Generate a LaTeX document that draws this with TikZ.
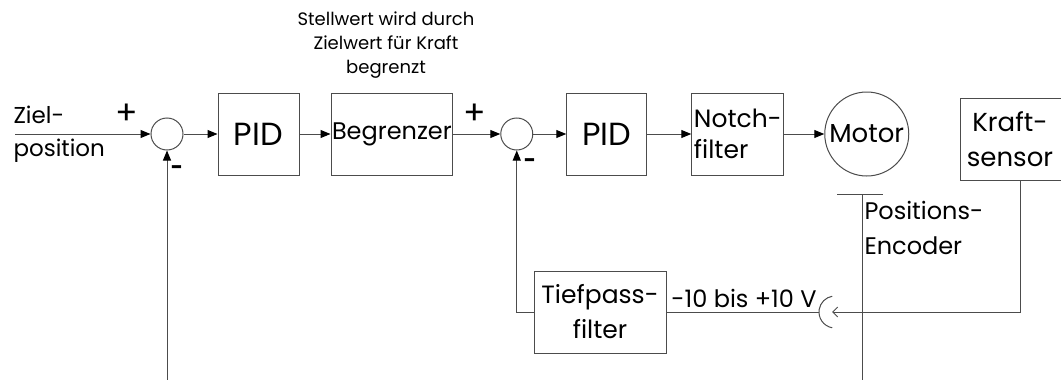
\documentclass[tikz,border=0pt]{standalone}
\usepackage{fontspec}
\setmainfont{Poppins}
\usetikzlibrary{arrows.meta, positioning, calc}
\newcommand{\fsz}[2]{\fontsize{#1}{#2}\selectfont}

\begin{document}
\begin{tikzpicture}[
	x=1pt, y=-1pt,
	line/.style={draw=black!70, line width=1pt},
	block/.style={rectangle, draw=black!70, line width=1pt, minimum height=82pt, inner sep=1pt},
	sum/.style={circle, draw=black!70, line width=1pt, minimum size=32pt, inner sep=0pt},
	arrow/.style={line, -{Triangle[length=10pt, width=8pt, color=black]}},
	barb/.style={line, -{Straight Barb[length=5pt, width=10pt]}},
	sign/.style={font=\fsz{33}{33}, inner sep=0pt},
	minus/.style={font=\bfseries\fsz{21}{21}, inner sep=0pt}
]
\useasboundingbox (0,0) rectangle (1061,380);

% Outer loop
\node[sum] (S1) at (167,134) {};
\node[block, minimum width=81pt, font=\fsz{32}{33}] (PID1) [right=34pt of S1] {PID};
\node[block, minimum width=121pt, font=\fsz{24}{33}] (B) [right=31pt of PID1] {Begrenzer};
\node[align=center, font=\fsz{18}{24}] (note) at (386,45) {Stellwert wird durch\\Zielwert für Kraft\\begrenzt};

% Inner loop
\node[sum] (S2) [right=47pt of B] {};
\node[block, minimum width=80pt, font=\fsz{32}{33}] (PID2) [right=33pt of S2] {PID};
\node[block, minimum width=92pt, align=left, font=\fsz{25}{31}] (N) [right=44pt of PID2] {Notch-\\filter};
\node[circle, draw=black!70, line width=1pt, minimum size=84pt, inner sep=0pt, font=\fsz{26}{30}] (Mot) [right=40pt of N] {Motor};

% Force sensor and filter
\node[block, minimum width=120pt] (K) at (1020,139) {};
\node[align=center, font=\fsz{26}{35}] (Klabel) at ($(K.center)+(-10,0)$) {Kraft-\\sensor};
\node[block, minimum width=132pt, align=center, font=\fsz{25}{35}] (T) at (600,312) {Tiefpass-\\filter};
\coordinate (sock) at (835,312);
\node[font=\fsz{24}{24}] (volt) at (744,298) {-10 bis +10 V};

% Signs
\node[align=left, anchor=west, font=\fsz{23}{33}] (ziel) at (10,134) {Ziel-\\position};
\node[sign] (p1) at (127,114) {+};
\node[minus] (m1) at (177,170) {-};
\node[sign] (p2) at (475,114) {+};
\node[minus] (m2) at (530,163) {-};

% Position encoder
\coordinate (encT) at (862,194);
\coordinate (encB) at (862,380);
\draw[line] (encT) -- (encB);
\draw[line] ($(encT)+(-25,0)$) -- ($(encT)+(21,0)$);
\node[align=left, anchor=west, font=\fsz{24}{35}] (enc) at (861,228) {Positions-\\Encoder};

% Connections
\coordinate (in) at (15,134);
\coordinate (fb1) at (167,380);
\draw[arrow] (in) -- (S1);
\draw[arrow] (S1) -- (PID1);
\draw[arrow] (PID1) -- (B);
\draw[arrow] (B) -- (S2);
\draw[arrow] (S2) -- (PID2);
\draw[arrow] (PID2) -- (N);
\draw[arrow] (N) -- (Mot);
\draw[arrow] (fb1) -- (S1);
\draw[arrow] (T.west) -| (S2.south);
\draw[line] (T.east) -- ($(sock)+(-16,0)$);
\draw[line] ($(sock)+(100:16)$) arc[start angle=100, end angle=260, radius=16];
\draw[barb] (K.south) |- ($(sock)+(-3,0)$);
\end{tikzpicture}
\end{document}
